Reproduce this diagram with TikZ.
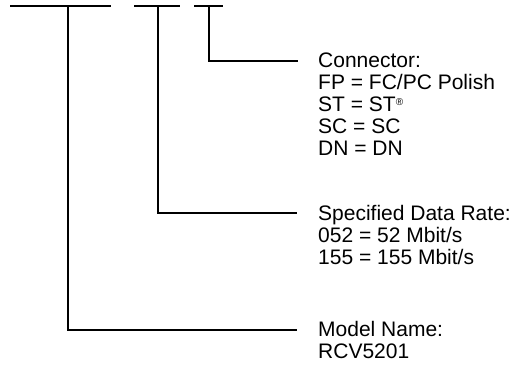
\documentclass[tikz,border=0pt]{standalone}
\usepackage{fontspec}
\setmainfont{Liberation Sans}
\usepackage{tikz}
\tikzset{bar/.style={line width=2pt, line cap=butt}}
\tikzset{code/.style={anchor=base west, inner sep=0pt, align=left,
    font=\fontsize{21}{22}\selectfont}}

\begin{document}
\begin{tikzpicture}[x=1pt, y=-1pt]
    \useasboundingbox (0,0) rectangle (521,364);

    % bars over the three fields
    \coordinate (A1) at (10,6);
    \coordinate (A2) at (111,6);
    \coordinate (B1) at (134,6);
    \coordinate (B2) at (180,6);
    \coordinate (C1) at (194,6);
    \coordinate (C2) at (223,6);
    \coordinate (A) at (67.5,6);
    \coordinate (B) at (158,6);
    \coordinate (C) at (209,6);

    \coordinate (Aend) at (297,330);
    \coordinate (Bend) at (297,213);
    \coordinate (Cend) at (298,61);

    % base of a block is the base of its last line
    \node[code] (conn) at (318,155) {Connector:\\FP = FC/PC Polish\\ST = ST\raisebox{6pt}{\fontsize{10}{10}\selectfont\textregistered}\\SC = SC\\DN = DN};
    \node[code] (rate) at (318,264) {Specified Data Rate:\\052 = 52 Mbit/s\\155 = 155 Mbit/s};
    \node[code] (model) at (318,358) {Model Name:\\RCV5201};

    \draw[bar] (A1) -- (A2);
    \draw[bar] (B1) -- (B2);
    \draw[bar] (C1) -- (C2);

    \draw[bar] (A) |- (Aend);
    \draw[bar] (B) |- (Bend);
    \draw[bar] (C) |- (Cend);

\end{tikzpicture}
\end{document}
